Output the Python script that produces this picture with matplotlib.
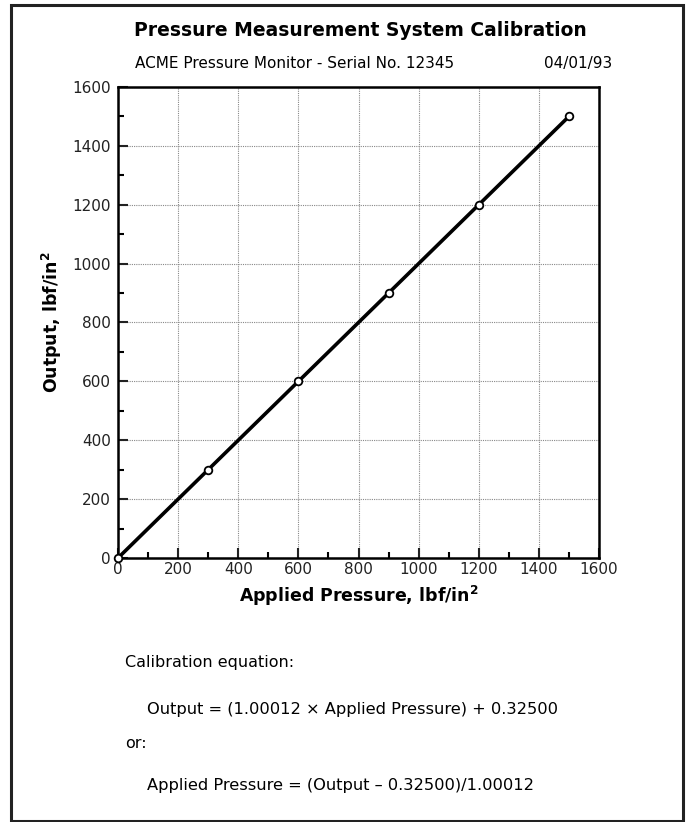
import matplotlib.pyplot as plt
from matplotlib.patches import Rectangle
from matplotlib.ticker import MultipleLocator

# calibration points
applied = [0, 300, 600, 900, 1200, 1500]
output = [0, 300, 600, 900, 1200, 1500]
x_ticks = [0, 200, 400, 600, 800, 1000, 1200, 1400, 1600]
y_ticks = [0, 200, 400, 600, 800, 1000, 1200, 1400, 1600]

plt.rcParams['font.family'] = ['DejaVu Sans']

W, H = 691, 822
fig = plt.figure(figsize=(W / 100, H / 100), dpi=100)

# outer frame
fig.patches.append(Rectangle((11 / W, 1 - 821 / H), (683 - 11) / W, (821 - 5) / H,
                             transform=fig.transFigure, fill=False,
                             edgecolor='#222222', linewidth=2.2))

ax = fig.add_axes([118 / W, 1 - 558 / H, (599 - 118) / W, (558 - 87) / H])
ax.plot(applied, output, color='black', lw=2.6, marker='o', markersize=5.5,
        markerfacecolor='white', markeredgecolor='black', markeredgewidth=1.3,
        clip_on=False, zorder=3)

ax.set_xlim(0, 1600)
ax.set_ylim(0, 1600)
ax.set_xticks(x_ticks)
ax.set_yticks(y_ticks)
ax.xaxis.set_minor_locator(MultipleLocator(100))
ax.yaxis.set_minor_locator(MultipleLocator(100))
ax.tick_params(which='major', direction='in', length=7, width=1.5,
               labelsize=11, colors='#222222')
ax.tick_params(which='minor', direction='in', length=4, width=1.5)
ax.tick_params(axis='x', pad=3)
ax.tick_params(axis='y', pad=5)
ax.grid(True, which='major', linestyle=(0, (1, 1)), color='#888888', linewidth=0.8)
for s in ax.spines.values():
    s.set_linewidth(1.8)

ax.set_xlabel(r'Applied Pressure, lbf/in$^\mathbf{2}$', fontsize=12.5, fontweight='bold', labelpad=5)
ax.set_ylabel(r'Output, lbf/in$^\mathbf{2}$', fontsize=12.5, fontweight='bold', labelpad=6)

fig.text(360 / W, 1 - 30 / H, 'Pressure Measurement System Calibration', ha='center', va='center',
         fontsize=13.5, fontweight='bold')
fig.text(135 / W, 1 - 68 / H, 'ACME Pressure Monitor - Serial No. 12345', ha='left', va='baseline',
         fontsize=11)
fig.text(612 / W, 1 - 68 / H, '04/01/93', ha='right', va='baseline', fontsize=11)

fig.text(125 / W, 1 - 662 / H, 'Calibration equation:', ha='left', va='center', fontsize=11.5)
fig.text(147 / W, 1 - 709 / H, 'Output = (1.00012 \u00d7 Applied Pressure) + 0.32500',
         ha='left', va='center', fontsize=11.7)
fig.text(125 / W, 1 - 743 / H, 'or:', ha='left', va='center', fontsize=11.5)
fig.text(147 / W, 1 - 785 / H, 'Applied Pressure = (Output \u2013 0.32500)/1.00012',
         ha='left', va='center', fontsize=11.7)

fig.savefig('out.png', dpi=100)
